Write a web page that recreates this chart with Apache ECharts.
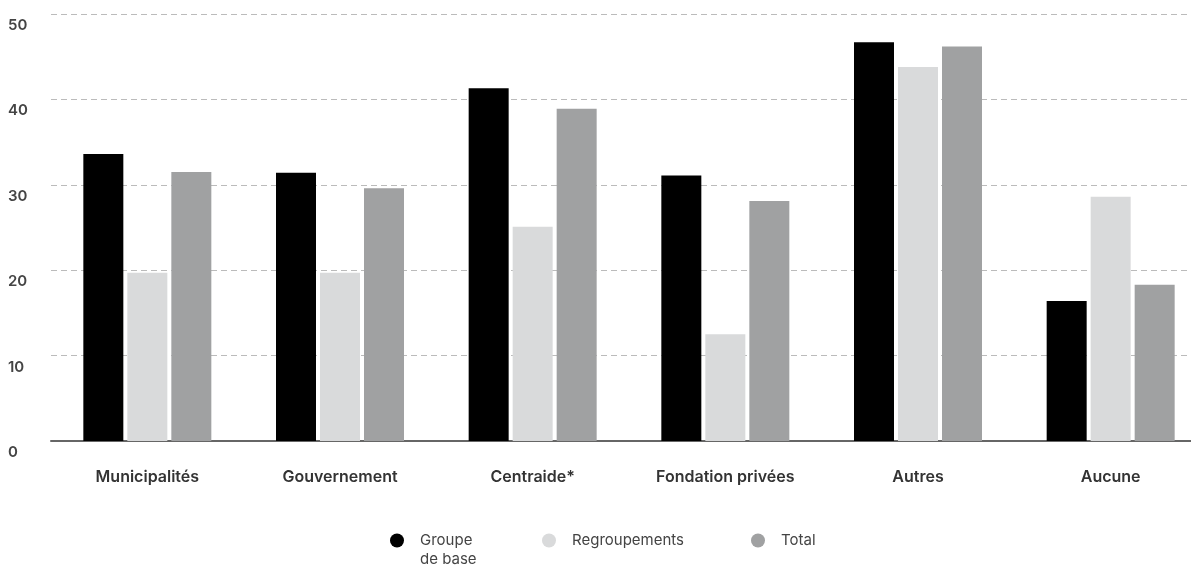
<!DOCTYPE html>
<html>
<head>
<meta charset="utf-8">
<script src="https://cdn.jsdelivr.net/npm/echarts@6/dist/echarts.min.js"></script>
<style>html,body{margin:0;padding:0;background:#fff}#c{width:1191px;height:569px}</style>
</head>
<body>
<div id="c"></div>
<script>
const categories = ['Municipalités', 'Gouvernement', 'Centraide*', 'Fondation privées', 'Autres', 'Aucune'];
const groupeDeBase = [33.6, 31.4, 41.3, 31.1, 46.7, 16.4];
const regroupements = [19.7, 19.7, 25.1, 12.5, 43.8, 28.6];
const total = [31.5, 29.6, 38.9, 28.1, 46.2, 18.3];
const seriesNames = ['Groupe de base', 'Regroupements', 'Total'];
const yTicks = [0, 10, 20, 30, 40, 50];

const colors = ['#000000', '#d9dadb', '#a0a1a2'];
const font = 'Inter, "Noto Sans", sans-serif';
const chart = echarts.init(document.getElementById('c'), null, {renderer: 'canvas'});

function legendFor(i, left) {
  return {
    data: [seriesNames[i]],
    left: left,
    top: i === 0 ? 512 : 531,
    padding: 0,
    orient: 'horizontal',
    icon: 'circle',
    itemWidth: 36,
    itemHeight: 14,
    selectedMode: false,
    formatter: function (n) { return n === 'Groupe de base' ? '\nGroupe\nde base' : n; },
    textStyle: {fontFamily: font, fontSize: 15, color: '#444', lineHeight: 19}
  };
}

chart.setOption({
  animation: false,
  color: colors,
  grid: {left: 51, width: 1156, top: 14, bottom: 128, containLabel: false, outerBoundsMode: 'none'},
  legend: [legendFor(0, 390), legendFor(1, 542), legendFor(2, 751)],
  xAxis: {
    type: 'category',
    data: categories,
    axisTick: {show: false},
    axisLine: {lineStyle: {color: '#666', width: 2}},
    axisLabel: {margin: 28, fontFamily: font, fontSize: 16, fontWeight: 600, color: '#333'}
  },
  yAxis: {
    type: 'value',
    min: yTicks[0],
    max: yTicks[yTicks.length - 1],
    interval: 10,
    axisLine: {show: false},
    axisTick: {show: false},
    splitLine: {lineStyle: {color: '#bbbbbb', type: [6, 4], width: 1}},
    axisLabel: {
      align: 'left', margin: 43, verticalAlign: 'top', padding: [4, 0, 0, 0],
      fontFamily: font, fontSize: 15, fontWeight: 600, color: '#444'
    }
  },
  series: [
    {name: seriesNames[0], type: 'bar', data: groupeDeBase, barWidth: 40, barGap: '10%'},
    {name: seriesNames[1], type: 'bar', data: regroupements, barWidth: 40, barGap: '10%'},
    {name: seriesNames[2], type: 'bar', data: total, barWidth: 40, barGap: '10%'}
  ]
});
</script>
</body>
</html>
